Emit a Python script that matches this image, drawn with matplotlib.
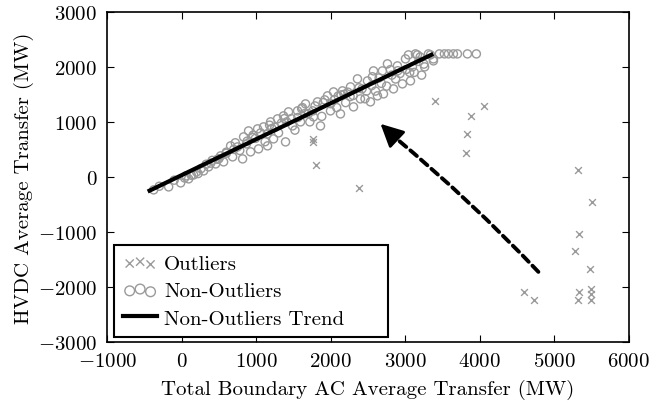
import matplotlib
matplotlib.use("Agg")
import matplotlib.pyplot as plt

plt.rcParams['font.family'] = 'serif'
plt.rcParams['font.serif'] = ['cmr10']
plt.rcParams['mathtext.fontset'] = 'cm'
plt.rcParams['axes.formatter.use_mathtext'] = True
plt.rcParams['axes.unicode_minus'] = True

# Outliers (x markers)
out_x = [1756, 1756, 1796, 2386, 3400, 4062, 3887, 3834, 3820, 5322, 5509, 5335,
         5282, 5483, 4598, 4732, 5335, 5322, 5496, 5496, 5496]
out_y = [690, 636, 218, -200, 1380, 1290, 1110, 780, 436, 127, -455, -1036,
         -1345, -1673, -2091, -2236, -2091, -2236, -2036, -2127, -2236]

# Non-outliers (circles)
non_x = [-375, -174, -13, 94, 161, 220, 295, 362, 456, 523, 563, 684, 657, 750,
         818, 831, 898, 925, 1019, 1032, 1099, 1153, 1193, 1233, 1287, 1367, 1394,
         1434, 1488, 1555, 1595, 1662, 1769, 1823, 1863, 1957, 1997, 2038, 2131,
         2158, 2265, 2306, 2359, 2399, 2493, 2533, 2574, 2627, 2694, 2708, 2761,
         2842, 2895, 2962, 3003, 3070, 3096, 3137, 3311, 3378,
         3043, 3163, 3338, 3458, 3525, 3579, 3646, 3700, 3834, 3954, 3378,
         40, 130, 260, 330, 410, 480, 600, 720, 780, 870, 960, 1060, 1120, 1210,
         1300, 1340, 1470, 1520, 1610, 1700, 1720, 1790, 1880, 1920, 2000, 2080,
         2100, 2200, 2230, 2300, 2420, 2460, 2550, 2600, 2650, 2750, 2800, 2870,
         2930, 3010, 3060, 3180, 3220, 3260, 600, 700, 880, 990, 1150, 1250, 1410,
         1560, 1650, 1760, 1900, 2050, 2180, 2380, 2480, 2680, 2820, 3120, 3250,
         -300, -100, 60, 200, 390, 500, 950, 1180, 1380, 1620, 2140, 2260, 2560,
         2900, 3200]
non_y = [-236, -182, -109, -36, 36, 60, 109, 182, 236, 382, 273, 364, 564, 545,
         327, 727, 836, 455, 873, 509, 909, 564, 1000, 691, 1055, 1109, 636,
         1182, 927, 1200, 1000, 1327, 1091, 1364, 927, 1473, 1200, 1545, 1145,
         1564, 1636, 1273, 1782, 1418, 1745, 1364, 1927, 1473, 1927, 1509, 2055,
         1600, 2018, 1691, 2145, 1745, 2000, 2236, 2236, 2145,
         2218, 2218, 2218, 2236, 2236, 2236, 2236, 2236, 2236, 2236, 2109,
         -20, 30, 150, 230, 300, 320, 430, 620, 480, 600, 760, 800, 640, 880,
         800, 980, 1060, 850, 1240, 1150, 1000, 1290, 1100, 1400, 1330, 1260,
         1470, 1350, 1540, 1480, 1600, 1420, 1660, 1560, 1800, 1650, 1950, 1780,
         1880, 1950, 1900, 2100, 1850, 2000, 450, 500, 650, 700, 780, 900, 1000,
         1080, 1150, 1200, 1350, 1400, 1500, 1620, 1560, 1700, 1850, 1900, 2050,
         -170, -60, 20, 90, 250, 330, 720, 940, 1060, 1260, 1490, 1460, 1820,
         1930, 2180]

# Trend line endpoints
trend_x = [-430, 3350]
trend_y = [-250, 2220]

# Annotation arrow: tail, tip
arrow_tail = (4786, -1727)
arrow_tip = (2668, 964)
arrow_head_base = (2860, 720)

gray = '#9a9a9a'

fig = plt.figure(figsize=(6.49, 4.02), dpi=100)
ax = fig.add_axes([0.165, 0.147, 0.804, 0.821])

ax.scatter(out_x, out_y, marker='x', s=24, color=gray, linewidths=1.0,
           label='Outliers', zorder=3)
ax.scatter(non_x, non_y, marker='o', s=34, facecolors='none', edgecolors=gray,
           linewidths=1.0, label='Non-Outliers', zorder=2)
ax.plot(trend_x, trend_y, color='black', lw=3, label='Non-Outliers Trend', zorder=4)

# dashed shaft
ax.annotate('', xy=arrow_head_base, xytext=arrow_tail,
            arrowprops=dict(arrowstyle='-', linestyle=(0, (2.2, 1.4)), lw=2.8,
                            color='black', connectionstyle='arc3,rad=0.03',
                            shrinkA=0, shrinkB=0))
# solid head
ax.annotate('', xy=arrow_tip, xytext=arrow_head_base,
            arrowprops=dict(arrowstyle='-|>,head_length=1.4,head_width=0.7',
                            lw=2, color='black', shrinkA=0, shrinkB=0))

ax.set_xlim(-1000, 6000)
ax.set_ylim(-3000, 3000)
ax.set_xticks(range(-1000, 6001, 1000))
ax.set_yticks(range(-3000, 3001, 1000))
ax.tick_params(direction='in', top=True, right=True, length=5, labelsize=15, pad=7)
for sp in ax.spines.values():
    sp.set_linewidth(1.2)

ax.set_xlabel('Total Boundary AC Average Transfer (MW)', fontsize=15, labelpad=7)
ax.set_ylabel('HVDC Average Transfer (MW)', fontsize=15, labelpad=3)

leg = ax.legend(loc='lower left', bbox_to_anchor=(0.0134, 0.0148, 0.525, 0.28),
                mode='expand', fontsize=15, scatterpoints=3, fancybox=False,
                edgecolor='black', framealpha=1, borderaxespad=0.0,
                handlelength=1.6, handletextpad=0.35, labelspacing=0.42,
                markerscale=1.2, borderpad=0.45)
leg.get_frame().set_linewidth(1.5)

fig.savefig('out.png', dpi=100)
